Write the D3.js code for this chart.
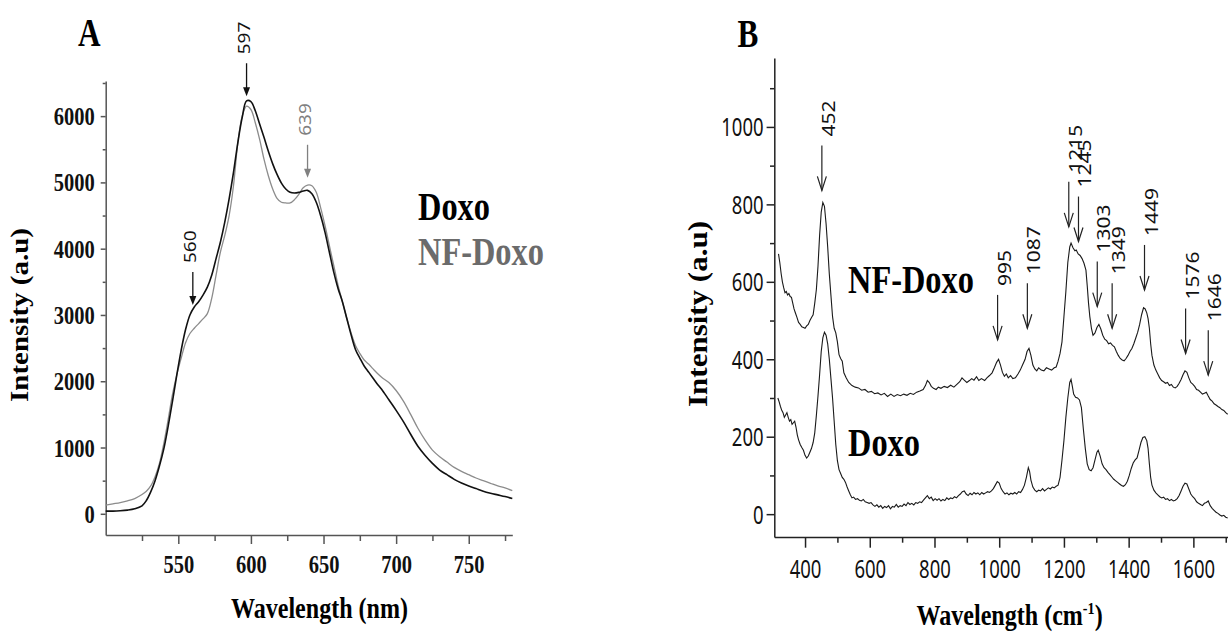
<!DOCTYPE html>
<html>
<head>
<meta charset="utf-8">
<script src="https://cdn.jsdelivr.net/npm/d3@7/dist/d3.min.js"></script>
<style>
  body { margin: 0; background: #fff; }
  svg { display: block; }
</style>
</head>
<body>
<script>
// ---- panel A : fluorescence emission (nm vs intensity) ----
const wavelengthA = [500,505,510,515,520,525,528,531,534,537,540,543,546,549,552,555,558,561,564,567,570,573,576,579,582,585,588,591,594,597,600,603,606,609,612,615,618,621,624,627,630,633,636,639,642,645,648,651,654,657,660,663,666,669,672,675,678,681,684,687,690,695,700,705,710,715,720,725,730,735,740,745,750,755,760,765,770,775,780]
const doxoA = [40,40,45,55,75,120,200,330,500,720,980,1320,1700,2100,2470,2780,3000,3120,3200,3300,3420,3600,3850,4100,4400,4750,5150,5600,5980,6230,6220,6080,5880,5680,5470,5280,5120,4990,4900,4850,4840,4850,4870,4880,4830,4700,4500,4250,3950,3650,3400,3200,2950,2700,2480,2350,2230,2140,2050,1960,1880,1720,1560,1390,1200,1020,880,760,660,590,520,465,420,380,340,310,285,260,230]
const nfDoxoA = [130,150,170,195,230,290,340,420,560,760,1060,1420,1800,2100,2350,2580,2720,2800,2870,2940,3020,3250,3600,3950,4200,4500,4950,5600,6000,6150,6100,5900,5650,5350,5100,4900,4760,4700,4690,4690,4740,4820,4920,4960,4950,4850,4620,4350,4050,3750,3450,3200,2950,2730,2540,2420,2320,2260,2190,2120,2060,1980,1860,1700,1500,1290,1110,960,860,780,700,640,590,540,500,460,420,390,350]
const xTicksA = [550, 600, 650, 700, 750]
const yTicksA = [0, 1000, 2000, 3000, 4000, 5000, 6000]
const peaksA = [560, 597, 639]
const peakTipA = [3150, 6300, 5070]   // intensity where each arrow points
const peakSeriesA = ["Doxo", "Doxo", "NF-Doxo"]

// ---- panel B : Raman spectra (cm-1 vs intensity), [shift, intensity] ----
const nfDoxoB = [[318,672],[322,650],[326,622],[330,600],[334,585],[338,572],[342,575],[346,566],[350,570],[354,562],[358,560],[362,545],[366,530],[370,520],[375,508],[380,495],[385,490],[390,484],[395,482],[400,480],[405,486],[410,490],[415,500],[420,508],[425,515],[430,545],[435,580],[440,640],[445,720],[450,780],[455,805],[460,795],[465,750],[470,690],[475,620],[480,565],[485,510],[490,480],[495,468],[500,445],[505,412],[510,402],[515,395],[520,365],[527,352],[535,340],[545,332],[555,328],[565,326],[575,320],[585,322],[595,315],[605,317],[615,311],[625,313],[635,308],[645,312],[655,304],[665,310],[675,304],[685,309],[695,306],[705,310],[715,307],[725,312],[735,309],[745,315],[755,318],[765,322],[772,332],[778,345],[784,340],[790,330],[797,325],[805,322],[812,328],[820,325],[830,330],[840,327],[850,333],[860,328],[870,336],[878,342],[885,352],[892,346],[900,340],[908,345],[915,350],[922,346],[930,355],[937,345],[945,350],[955,345],[962,352],[970,358],[978,365],[985,378],[992,392],[998,400],[1004,385],[1010,366],[1016,356],[1022,362],[1028,352],[1035,358],[1042,350],[1050,352],[1058,362],[1065,372],[1072,385],[1080,400],[1086,420],[1092,428],[1098,410],[1104,385],[1110,375],[1116,370],[1122,378],[1130,372],[1138,370],[1146,378],[1154,375],[1162,372],[1170,378],[1176,380],[1182,395],[1188,415],[1194,445],[1200,510],[1206,575],[1212,650],[1218,690],[1222,700],[1228,688],[1234,680],[1238,682],[1244,672],[1250,668],[1256,660],[1262,648],[1268,630],[1272,590],[1276,545],[1280,510],[1285,480],[1290,462],[1296,468],[1302,482],[1308,490],[1314,478],[1320,462],[1326,452],[1332,448],[1338,440],[1344,442],[1350,436],[1356,432],[1362,420],[1368,410],[1374,402],[1380,398],[1386,396],[1392,402],[1398,410],[1404,420],[1410,428],[1416,440],[1422,455],[1428,470],[1434,490],[1440,515],[1446,533],[1451,530],[1456,520],[1460,505],[1464,480],[1468,440],[1472,410],[1478,385],[1484,372],[1490,362],[1496,352],[1502,345],[1508,342],[1514,338],[1520,340],[1526,332],[1532,335],[1538,328],[1544,326],[1550,330],[1556,338],[1562,348],[1568,360],[1574,370],[1580,366],[1586,352],[1592,340],[1598,336],[1604,330],[1610,322],[1616,320],[1622,315],[1628,310],[1634,312],[1640,315],[1646,305],[1652,296],[1658,292],[1664,285],[1670,282],[1676,278],[1682,275],[1688,270],[1694,268],[1700,262],[1706,258]]
const doxoB = [[316,300],[320,290],[324,278],[328,268],[332,262],[336,250],[340,256],[344,262],[348,250],[352,240],[356,244],[360,232],[364,236],[368,240],[372,225],[376,205],[380,192],[385,180],[390,172],[395,165],[400,152],[405,145],[410,150],[415,160],[420,170],[425,185],[430,210],[435,255],[440,305],[445,360],[450,420],[455,455],[460,470],[465,462],[470,440],[475,400],[480,350],[485,300],[490,240],[495,180],[500,138],[505,115],[510,105],[515,95],[520,90],[525,82],[530,70],[535,60],[540,50],[545,42],[550,44],[556,38],[562,40],[568,36],[574,34],[580,38],[586,32],[592,30],[598,28],[604,30],[610,24],[616,20],[622,24],[628,18],[634,22],[640,15],[646,20],[652,17],[658,22],[664,14],[670,20],[676,18],[682,25],[688,18],[694,22],[700,20],[706,26],[712,22],[718,30],[724,25],[730,28],[736,24],[742,30],[748,28],[754,32],[760,30],[766,36],[772,42],[778,48],[784,40],[790,44],[796,35],[802,40],[808,36],[814,40],[820,34],[826,38],[832,35],[838,42],[844,38],[850,42],[856,40],[862,45],[868,42],[874,48],[880,52],[886,58],[892,60],[898,52],[904,48],[910,54],[916,50],[922,56],[928,52],[934,55],[940,50],[946,56],[952,52],[958,55],[964,58],[970,56],[976,60],[982,66],[988,75],[994,84],[1000,80],[1006,66],[1012,58],[1018,52],[1024,55],[1030,50],[1036,54],[1042,52],[1048,56],[1054,52],[1060,58],[1066,56],[1072,64],[1078,75],[1084,95],[1090,120],[1094,110],[1098,88],[1104,70],[1110,62],[1116,58],[1122,62],[1128,60],[1134,66],[1140,60],[1146,64],[1152,68],[1158,65],[1164,70],[1170,68],[1176,72],[1182,75],[1188,95],[1194,140],[1200,190],[1206,250],[1212,300],[1218,340],[1222,348],[1226,330],[1230,310],[1236,302],[1242,300],[1248,295],[1254,275],[1260,220],[1266,170],[1272,130],[1278,115],[1284,112],[1290,120],[1296,140],[1302,160],[1306,165],[1312,150],[1318,130],[1324,120],[1330,115],[1336,108],[1342,102],[1348,96],[1354,90],[1360,86],[1366,82],[1372,78],[1378,74],[1384,72],[1390,76],[1396,85],[1402,100],[1408,118],[1414,132],[1420,140],[1426,145],[1432,165],[1438,185],[1444,198],[1450,200],[1456,190],[1460,170],[1464,130],[1468,95],[1472,75],[1478,62],[1484,55],[1490,50],[1496,45],[1502,42],[1508,44],[1514,38],[1520,40],[1526,35],[1532,38],[1538,34],[1544,36],[1550,40],[1556,48],[1562,60],[1568,72],[1574,80],[1580,78],[1586,65],[1592,52],[1598,45],[1604,40],[1610,32],[1616,28],[1622,25],[1628,22],[1634,28],[1640,30],[1646,34],[1652,22],[1658,15],[1664,10],[1670,5],[1676,2],[1682,-2],[1688,-5],[1694,-3],[1700,-8],[1706,-10]]
const xTicksB = [400, 600, 800, 1000, 1200, 1400, 1600]
const yTicksB = [0, 200, 400, 600, 800, 1000]
const peaksB = [452, 995, 1087, 1215, 1245, 1303, 1349, 1449, 1576, 1646]
const peakTipB = [836, 450, 480, 742, 704, 536, 480, 579, 415, 359]

const serif = "'Liberation Serif', 'Times New Roman', serif"
const sans = "'Noto Sans', 'Open Sans', sans-serif"
const plain = d3.format("d")   // no thousands separator on the ticks

var width = 1228
var height = 634

var svg = d3.select("body").append("svg")
    .attr("width", width)
    .attr("height", height)

// the source figure is squashed horizontally, so text gets narrowed too
const squeeze = (sel, k) => {
    sel.each(function() {
        const w = this.getComputedTextLength()
        d3.select(this).attr("textLength", w * k).attr("lengthAdjust", "spacingAndGlyphs")
    })
}

const wideText = (g, str, x, y, size, k, anchor, color) => {
    return g.append("text")
        .attr("transform", `translate(${x},${y}) scale(${k},1)`)
        .attr("text-anchor", anchor)
        .style("font-family", serif)
        .style("font-weight", "bold")
        .style("font-size", size + "px")
        .attr("fill", color)
        .text(str)
}

const range = (a, b, step) => d3.range(a, b + step / 2, step)

/* ================= panel A ================= */
var xA = d3.scaleLinear().domain([500, 780]).range([105.7, 512.3])
var yA = d3.scaleLinear().domain([-320, 6530]).range([535, 81])
var axisColA = "#555"

var gA = svg.append("g")

// minor ticks
gA.append("g")
    .attr("transform", `translate(0,${yA.range()[0]})`)
    .call(d3.axisBottom(xA).tickValues(range(525, 775, 50)).tickSize(6).tickFormat(""))
    .call(g => g.select(".domain").remove())
gA.append("g")
    .attr("transform", `translate(${xA.range()[0]},0)`)
    .call(d3.axisLeft(yA).tickValues(range(500, 6500, 1000)).tickSize(3).tickFormat(""))
    .call(g => g.select(".domain").remove())

var xAxisA = gA.append("g")
    .attr("transform", `translate(0,${yA.range()[0]})`)
    .call(d3.axisBottom(xA).tickValues(xTicksA).tickFormat(plain).tickSize(9).tickSizeOuter(0).tickPadding(11))
var yAxisA = gA.append("g")
    .attr("transform", `translate(${xA.range()[0]},0)`)
    .call(d3.axisLeft(yA).tickValues(yTicksA).tickFormat(plain).tickSize(5).tickSizeOuter(0).tickPadding(6))

gA.selectAll(".tick line, .domain").attr("stroke", axisColA).attr("stroke-width", 1.5)
;[xAxisA, yAxisA].forEach(ax => {
    ax.selectAll("text")
        .style("font-family", serif)
        .style("font-weight", "bold")
        .style("font-size", "25px")
        .attr("fill", "#111")
        .call(squeeze, 0.82)
})
yAxisA.selectAll("text").attr("dy", "0.34em")

var lineA = d3.line()
    .x(d => xA(d[0]))
    .y(d => yA(d[1]))
    .curve(d3.curveCatmullRom)

gA.append("path")
    .datum(wavelengthA.map((w, i) => [w, nfDoxoA[i]]))
    .attr("d", lineA)
    .attr("fill", "none")
    .attr("stroke", "#8c8c8c")
    .attr("stroke-width", 1.3)

gA.append("path")
    .datum(wavelengthA.map((w, i) => [w, doxoA[i]]))
    .attr("d", lineA)
    .attr("fill", "none")
    .attr("stroke", "#111")
    .attr("stroke-width", 1.6)

// peak arrows (filled heads)
peaksA.forEach((p, i) => {
    const col = peakSeriesA[i] === "Doxo" ? "#111" : "#808080"
    const ax = xA(p)
    const tip = yA(peakTipA[i])
    const top = tip - 33
    gA.append("line")
        .attr("x1", ax).attr("x2", ax)
        .attr("y1", top).attr("y2", tip - 6)
        .attr("stroke", col).attr("stroke-width", 1.3)
    gA.append("path")
        .attr("d", `M${ax - 3.5},${tip - 9}L${ax + 3.5},${tip - 9}L${ax},${tip}Z`)
        .attr("fill", col)
    gA.append("text")
        .attr("transform", `translate(${ax + 3},${top - 9}) rotate(-90) scale(1,0.85)`)
        .style("font-family", sans)
        .style("font-size", "19px")
        .attr("fill", col)
        .text(p)
})

wideText(gA, "A", 78, 46, 40, 0.78, "start", "#000")
wideText(gA, "Doxo", 418, 220, 40, 0.81, "start", "#000")
wideText(gA, "NF-Doxo", 418, 265, 40, 0.81, "start", "#6b6b6b")
wideText(gA, "Wavelength (nm)", 319.5, 618, 29, 0.83, "middle", "#000")

gA.append("text")
    .attr("transform", "translate(28,315) rotate(-90) scale(1,0.85)")
    .attr("text-anchor", "middle")
    .style("font-family", serif)
    .style("font-weight", "bold")
    .style("font-size", "29px")
    .text("Intensity (a.u)")

/* ================= panel B ================= */
var xB = d3.scaleLinear().domain([305, 1707]).range([774.3, 1228])
var yB = d3.scaleLinear().domain([-59, 1178]).range([537, 58])
var axisColB = "#222"

var gB = svg.append("g")

gB.append("g")
    .attr("transform", `translate(0,${yB.range()[0]})`)
    .call(d3.axisBottom(xB).tickValues(range(500, 1700, 200)).tickSize(5.7).tickFormat(""))
    .call(g => g.select(".domain").remove())
gB.append("g")
    .attr("transform", `translate(${xB.range()[0]},0)`)
    .call(d3.axisLeft(yB).tickValues(range(100, 1100, 200)).tickSize(4.3).tickFormat(""))
    .call(g => g.select(".domain").remove())

var xAxisB = gB.append("g")
    .attr("transform", `translate(0,${yB.range()[0]})`)
    .call(d3.axisBottom(xB).tickValues(xTicksB).tickFormat(plain).tickSize(10.7).tickSizeOuter(0).tickPadding(13))
var yAxisB = gB.append("g")
    .attr("transform", `translate(${xB.range()[0]},0)`)
    .call(d3.axisLeft(yB).tickValues(yTicksB).tickFormat(plain).tickSize(7.7).tickSizeOuter(0).tickPadding(3))

gB.selectAll(".tick line, .domain").attr("stroke", axisColB).attr("stroke-width", 1.5)
;[xAxisB, yAxisB].forEach(ax => {
    ax.selectAll("text")
        .style("font-family", sans)
        .style("font-size", "25px")
        .attr("fill", "#111")
        .call(squeeze, 0.74)
})
yAxisB.selectAll("text").attr("dy", "0.36em")

var lineB = d3.line()
    .x(d => xB(d[0]))
    .y(d => yB(d[1]))

;[nfDoxoB, doxoB].forEach(series => {
    gB.append("path")
        .datum(series)
        .attr("d", lineB)
        .attr("fill", "none")
        .attr("stroke", "#1a1a1a")
        .attr("stroke-width", 1.1)
})

// peak arrows (open heads)
peaksB.forEach((p, i) => {
    const ax = xB(p)
    const tip = yB(peakTipB[i])
    const top = tip - 45
    gB.append("line")
        .attr("x1", ax).attr("x2", ax)
        .attr("y1", top).attr("y2", tip)
        .attr("stroke", "#222").attr("stroke-width", 1.2)
    gB.append("path")
        .attr("d", `M${ax - 4.5},${tip - 14}L${ax},${tip}L${ax + 4.5},${tip - 14}`)
        .attr("fill", "none")
        .attr("stroke", "#222").attr("stroke-width", 1.2)
    gB.append("text")
        .attr("transform", `translate(${ax + 13},${top - 9}) rotate(-90) scale(1,0.85)`)
        .style("font-family", sans)
        .style("font-size", "21px")
        .attr("fill", "#111")
        .text(p)
})

wideText(gB, "B", 737.6, 47, 40, 0.78, "start", "#000")
wideText(gB, "NF-Doxo", 848, 293, 40, 0.81, "start", "#000")
wideText(gB, "Doxo", 848, 456, 40, 0.81, "start", "#000")

var xLabB = wideText(gB, "", 1009.6, 625, 29, 0.83, "middle", "#000")
xLabB.append("tspan").text("Wavelength (cm")
xLabB.append("tspan").attr("dy", -11).style("font-size", "17px").text("-1")
xLabB.append("tspan").attr("dy", 11).text(")")

gB.append("text")
    .attr("transform", "translate(707,314) rotate(-90) scale(1,0.85)")
    .attr("text-anchor", "middle")
    .style("font-family", serif)
    .style("font-weight", "bold")
    .style("font-size", "31px")
    .text("Intensity (a.u)")
</script>
</body>
</html>
